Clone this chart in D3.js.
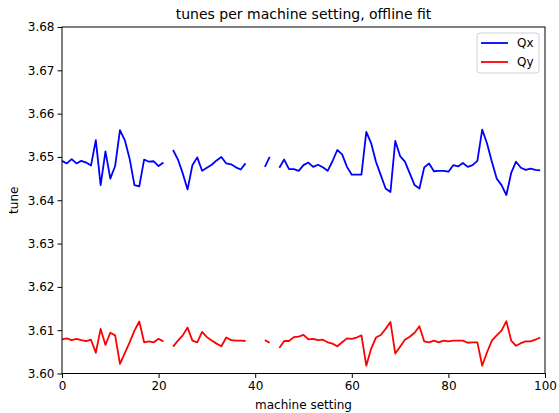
<!DOCTYPE html>
<html>
<head>
<meta charset="utf-8">
<script src="https://cdn.jsdelivr.net/npm/d3@7"></script>
<style>
  html, body { margin: 0; padding: 0; background: #fff; }
  svg { display: block; }
  text { font-family: "DejaVu Sans", sans-serif; fill: #000; }
</style>
</head>
<body>
<svg id="chart" width="559" height="413"></svg>
<script>
// Tune measurements per machine setting (null = no fit available)
const settings = d3.range(0, 100);

const qx = [
  3.6491, 3.6485, 3.6495, 3.6485, 3.6491, 3.6487, 3.6480, 3.6539, 3.6435, 3.6513,
  3.6450, 3.6479, 3.6562, 3.6539, 3.6496, 3.6435, 3.6432, 3.6494, 3.6489, 3.6490,
  3.6479, 3.6487, null,   3.6516, 3.6494, 3.6462, 3.6425, 3.6481, 3.6499, 3.6468,
  3.6475, 3.6482, 3.6492, 3.6500, 3.6485, 3.6483, 3.6476, 3.6471, 3.6485, null,
  null,   null,   3.6477, 3.6500, null,   3.6475, 3.6494, 3.6472, 3.6472, 3.6468,
  3.6481, 3.6487, 3.6477, 3.6482, 3.6476, 3.6468, 3.6490, 3.6516, 3.6506, 3.6477,
  3.6459, 3.6459, 3.6459, 3.6558, 3.6532, 3.6489, 3.6458, 3.6427, 3.6419, 3.6537,
  3.6502, 3.6489, 3.6462, 3.6435, 3.6427, 3.6476, 3.6485, 3.6467, 3.6468, 3.6468,
  3.6466, 3.6481, 3.6478, 3.6486, 3.6477, 3.6481, 3.6491, 3.6563, 3.6531, 3.6489,
  3.6450, 3.6435, 3.6412, 3.6463, 3.6489, 3.6475, 3.6470, 3.6473, 3.6470, 3.6469
];

const qy = [
  3.6079, 3.6081, 3.6077, 3.6080, 3.6077, 3.6075, 3.6078, 3.6048, 3.6103, 3.6066,
  3.6094, 3.6088, 3.6022, 3.6047, 3.6072, 3.6099, 3.6120, 3.6072, 3.6074, 3.6072,
  3.6080, 3.6074, null,   3.6062, 3.6076, 3.6088, 3.6106, 3.6076, 3.6072, 3.6096,
  3.6084, 3.6076, 3.6069, 3.6063, 3.6083, 3.6077, 3.6076, 3.6076, 3.6075, null,
  null,   null,   3.6077, 3.6071, null,   3.6059, 3.6075, 3.6075, 3.6084, 3.6085,
  3.6089, 3.6079, 3.6080, 3.6077, 3.6078, 3.6072, 3.6069, 3.6063, 3.6072, 3.6081,
  3.6080, 3.6083, 3.6088, 3.6018, 3.6057, 3.6083, 3.6089, 3.6103, 3.6119, 3.6046,
  3.6062, 3.6078, 3.6085, 3.6094, 3.6109, 3.6074, 3.6072, 3.6076, 3.6072, 3.6076,
  3.6074, 3.6076, 3.6076, 3.6076, 3.6071, 3.6072, 3.6072, 3.6018, 3.6049, 3.6076,
  3.6088, 3.6099, 3.6121, 3.6076, 3.6064, 3.6070, 3.6074, 3.6074, 3.6078, 3.6083
];

const seriesNames = ["Qx", "Qy"];
const seriesColors = ["#0000ff", "#ff0000"];
const xTicks = [0, 20, 40, 60, 80, 100];
const yTicks = [3.60, 3.61, 3.62, 3.63, 3.64, 3.65, 3.66, 3.67, 3.68];

const svg = d3.select("#chart");
const m = { left: 62, right: 545, top: 27, bottom: 373.5 };

const x = d3.scaleLinear().domain([0, 100]).range([m.left, m.right]);
const y = d3.scaleLinear().domain([3.60, 3.68]).range([m.bottom, m.top]);

// axes
const xAxis = svg.append("g")
  .attr("transform", `translate(0,${m.bottom})`)
  .call(d3.axisBottom(x).tickValues(xTicks).tickFormat(d3.format("d")).tickSize(4.5).tickPadding(3));
const yAxis = svg.append("g")
  .attr("transform", `translate(${m.left},0)`)
  .call(d3.axisLeft(y).tickValues(yTicks).tickFormat(d3.format(".2f")).tickSize(4.5).tickPadding(3));

[xAxis, yAxis].forEach(g => {
  g.select(".domain").remove();
  g.selectAll(".tick line").attr("stroke", "#000").attr("stroke-width", 1);
  g.selectAll(".tick text").style("font-size", "12px").style("font-family", "DejaVu Sans, sans-serif");
});

// lines
const line = d3.line()
  .defined(d => d[1] !== null)
  .x(d => x(d[0]))
  .y(d => y(d[1]));

[qx, qy].forEach((vals, i) => {
  svg.append("path")
    .datum(settings.map((s, k) => [s, vals[k]]))
    .attr("fill", "none")
    .attr("stroke", seriesColors[i])
    .attr("stroke-width", 1.8)
    .attr("stroke-linejoin", "round")
    .attr("stroke-linecap", "butt")
    .attr("d", line);
});

// frame
svg.append("rect")
  .attr("x", m.left).attr("y", m.top)
  .attr("width", m.right - m.left).attr("height", m.bottom - m.top)
  .attr("fill", "none").attr("stroke", "#000").attr("stroke-width", 1);

// title and axis labels
svg.append("text")
  .attr("x", (m.left + m.right) / 2).attr("y", 19)
  .attr("text-anchor", "middle").style("font-size", "14px")
  .text("tunes per machine setting, offline fit");
svg.append("text")
  .attr("x", (m.left + m.right) / 2).attr("y", 409)
  .attr("text-anchor", "middle").style("font-size", "12px")
  .text("machine setting");
svg.append("text")
  .attr("transform", `translate(18,${(m.top + m.bottom) / 2}) rotate(-90)`)
  .attr("text-anchor", "middle").style("font-size", "12px")
  .text("tune");

// legend
const lg = svg.append("g").attr("transform", "translate(477,33)");
lg.append("rect")
  .attr("width", 62).attr("height", 40).attr("rx", 3)
  .attr("fill", "#fff").attr("fill-opacity", 0.8)
  .attr("stroke", "#d0d0d0").attr("stroke-width", 1);
seriesNames.forEach((name, i) => {
  const yy = 10 + i * 19;
  lg.append("line")
    .attr("x1", 4).attr("x2", 31).attr("y1", yy).attr("y2", yy)
    .attr("stroke", seriesColors[i]).attr("stroke-width", 1.8);
  lg.append("text")
    .attr("x", 40).attr("y", yy + 4.3)
    .style("font-size", "12px")
    .text(name);
});
</script>
</body>
</html>
